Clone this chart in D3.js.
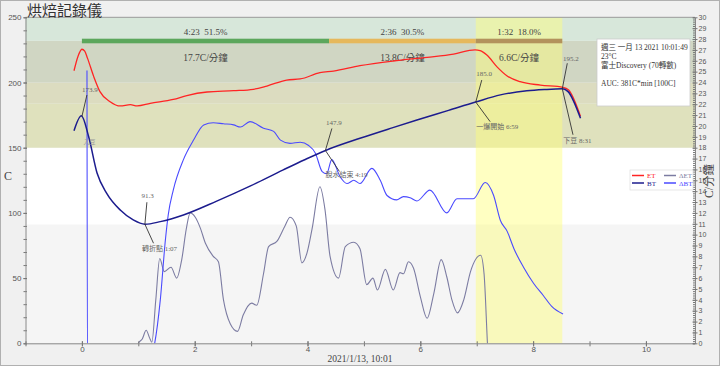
<!DOCTYPE html>
<html>
<head>
<meta charset="utf-8">
<script src="https://cdn.jsdelivr.net/npm/d3@7"></script>
<style>
  body { margin: 0; background: #f0f0f0; }
  svg { display: block; font-family: "Liberation Serif", "DejaVu Serif", "Noto Sans CJK TC", serif; }
</style>
</head>
<body>
<svg width="720" height="366"></svg>
<script>
// temperature curves [minutes, C]
const etData = [[-0.14,209],[-0.07,220],[0,225.5],[0.05,224],[0.1,218.5],[0.21,204.5],[0.32,193],[0.5,185.3],
  [0.68,182],[0.86,183],[0.98,182],[1.21,184],[1.62,187],[1.86,190],[2.22,192.7],[2.69,193.7],[3.04,194.8],
  [3.28,197.3],[3.63,201.9],[3.87,202.7],[4.22,207.5],[4.46,208.8],[4.93,212.9],[5.52,216.5],[6.12,219.3],
  [6.59,221.8],[6.97,225],[7.06,224.4],[7.18,221],[7.36,212],[7.54,205],[7.77,200.6],[8.13,198],[8.53,196.3],
  [8.63,194.2],[8.84,174]];
const btData = [[-0.14,163],[-0.01,174.5],[0.12,158.4],[0.27,130.4],[0.44,115],[0.68,102.2],[0.91,94.6],
  [1.12,91.3],[1.39,93.3],[1.8,98.4],[2.39,109],[2.98,120.5],[3.57,133],[3.95,140.8],[4.32,147.9],[4.93,157.2],
  [5.5,165.2],[5.94,171.2],[6.5,178.6],[6.98,185],[7.42,190.5],[7.89,193.6],[8.2,194.6],[8.52,195.2],
  [8.62,193],[8.84,172.5]];
// rate of rise [minutes, C/min]
const dbtData = [[0.09,25.1],[0.1,-4],[1.2,-4],[1.27,-0.5],[1.29,0],[1.39,4],[1.48,9.5],[1.53,11.8],[1.62,14.1],
  [1.8,16.9],[1.98,18.7],[2.16,20.1],[2.33,20.3],[2.51,20.2],[2.69,20.1],[2.81,19.9],[2.98,20.4],[3.22,19.8],
  [3.4,19.5],[3.52,18.7],[3.69,18.4],[3.87,18.5],[4.02,18.2],[4.14,17.5],[4.26,15.8],[4.34,15.6],[4.43,16.9],
  [4.58,15.3],[4.7,14.7],[4.82,15.0],[4.93,14.7],[5.14,16.1],[5.29,15.0],[5.41,13.6],[5.58,13.2],[5.7,13.5],
  [5.82,13.4],[5.94,13.1],[6.17,14.1],[6.47,12.0],[6.65,13.3],[6.94,13.3],[7.15,14.8],[7.3,13.6],[7.42,11.3],
  [7.54,10.3],[7.66,8.7],[7.83,7.0],[8.01,5.5],[8.18,4.4],[8.33,3.4],[8.53,2.7]];
const detData = [[0.95,-1],[1.0,0],[1.07,0.4],[1.14,1.2],[1.2,0.5],[1.24,0.1],[1.31,4],[1.38,7.8],[1.46,6.6],
  [1.58,7.0],[1.68,6.0],[1.77,7.7],[1.85,10.5],[1.92,12.0],[2.01,11.6],[2.1,10.6],[2.19,9.2],[2.33,8.0],
  [2.42,7.5],[2.51,4.0],[2.63,1.8],[2.76,1.1],[2.86,2.6],[3.01,3.7],[3.1,3.5],[3.22,6.4],[3.31,8.9],[3.46,9.4],
  [3.6,10.8],[3.69,11.6],[3.8,10.8],[3.9,7.4],[3.99,8.3],[4.08,10.5],[4.22,14.4],[4.31,12.3],[4.4,8.0],
  [4.55,6.0],[4.67,8.9],[4.82,9.3],[4.93,8.7],[5.05,5.4],[5.16,6.0],[5.24,4.9],[5.38,6.8],[5.52,4.9],
  [5.64,6.5],[5.7,6.4],[5.79,7.5],[5.88,6.9],[6.0,4.3],[6.12,2.3],[6.24,4.6],[6.37,7.7],[6.47,6.1],[6.56,4.0],
  [6.66,2.8],[6.77,4.0],[6.89,6.6],[7.07,8.1],[7.13,6.4],[7.19,0],[7.22,-3]];

// background temperature bands
const bandEdges = [0, 91, 150, 184, 200, 232, 250];
const bandColors = ["#f5f5f5", "#ffffff", "#dfe1bd", "#dcdcc0", "#d0d6c3", "#d7e7da"];

// phases
const phaseStart = [0, 4.383, 6.983];
const phaseEnd = [4.383, 6.983, 8.517];
const phaseLabels = ["4:23  51.5%", "2:36  30.5%", "1:32  18.0%"];
const phaseRates = ["17.7C/分鐘", "13.8C/分鐘", "6.6C/分鐘"];
const phaseColors = ["#5ca75c", "#e6b85c", "#b3925c"];

// events
const eventTimes = [0, 1.117, 4.317, 6.983, 8.517];
const eventTemps = [173.9, 91.3, 147.9, 185.0, 195.2];
const eventNames = ["入豆", "轉折點 1:07", "脫水結束 4:19", "一爆開始 6:59", "下豆 8:31"];

const leftTicks = [0, 50, 100, 150, 200, 250];
const bottomTicks = [0, 2, 4, 6, 8, 10];
const infoLines = ["週三 一月 13 2021 10:01:49", "23°C", "富士Discovery (70轉數)", "", "AUC: 381C*min [100C]"];

const svg = d3.select("svg");
const x = d3.scaleLinear().domain([-1, 10.87]).range([25.5, 695]);
const y = d3.scaleLinear().domain([0, 250]).range([343.3, 17.3]);
const yR = d3.scaleLinear().domain([0, 30]).range([343.3, 17.3]);
const L = 25.5, R = 695, T = 17.3, B = 343.3;

svg.append("rect").attr("x", 0.5).attr("y", 0.5).attr("width", 719).attr("height", 365)
  .attr("fill", "#f0f0f0").attr("stroke", "#b0b0b0");

svg.append("defs").append("clipPath").attr("id", "plot")
  .append("rect").attr("x", L).attr("y", T).attr("width", R - L).attr("height", B - T);

// bands
svg.append("g").selectAll("rect")
  .data(bandColors)
  .enter().append("rect")
  .attr("x", L).attr("width", R - L)
  .attr("y", (d, i) => y(bandEdges[i + 1]))
  .attr("height", (d, i) => y(bandEdges[i]) - y(bandEdges[i + 1]))
  .attr("fill", d => d);

// finishing phase highlight
svg.append("rect")
  .attr("x", x(phaseStart[2])).attr("width", x(phaseEnd[2]) - x(phaseStart[2]))
  .attr("y", T).attr("height", B - T)
  .attr("fill", "rgb(255,255,120)").attr("fill-opacity", 0.45);

// phase bar
svg.append("g").selectAll("rect")
  .data(phaseStart)
  .enter().append("rect")
  .attr("x", d => x(d))
  .attr("width", (d, i) => x(phaseEnd[i]) - x(d))
  .attr("y", 38.7).attr("height", 4.6)
  .attr("fill", (d, i) => phaseColors[i]);

const phaseText = svg.append("g").attr("fill", "#444").attr("font-size", 9).attr("text-anchor", "middle");
phaseText.selectAll(".pl")
  .data(phaseLabels)
  .enter().append("text")
  .attr("x", (d, i) => (x(phaseStart[i]) + x(phaseEnd[i])) / 2)
  .attr("y", 35)
  .style("white-space", "pre")
  .text(d => d);
phaseText.selectAll(".pr")
  .data(phaseRates)
  .enter().append("text")
  .attr("x", (d, i) => (x(phaseStart[i]) + x(phaseEnd[i])) / 2)
  .attr("y", 61)
  .attr("font-size", 9.5)
  .text(d => d);

svg.append("line").attr("x1", L).attr("x2", R).attr("y1", T).attr("y2", T).attr("stroke", "#999");

// curves
const tempLine = d3.line().x(d => x(d[0])).y(d => y(d[1])).curve(d3.curveMonotoneX);
const rorLine = d3.line().x(d => x(d[0])).y(d => yR(d[1])).curve(d3.curveMonotoneX);
const curves = svg.append("g").attr("clip-path", "url(#plot)").attr("fill", "none");
curves.append("path").attr("d", rorLine(detData)).attr("stroke", "#7c7ca2").attr("stroke-width", 1.1);
curves.append("path").attr("d", rorLine(dbtData)).attr("stroke", "#4a4aff").attr("stroke-width", 1.1);
curves.append("path").attr("d", tempLine(etData)).attr("stroke", "#ff2424").attr("stroke-width", 1.3);
curves.append("path").attr("d", tempLine(btData)).attr("stroke", "#1c1c8e").attr("stroke-width", 1.5);

// event annotations
const valueOff = [[0, -25], [-3.5, -26], [0.5, -25.5], [0.4, -25.6], [0.7, -28]];
const upEnd = [[5, -21.5], [2, -22], [6.5, -22], [6, -22], [5, -25.5]];
const lowEnd = [null, [8.6, 19], [14, 21], [14.4, 19.6], [10.7, 46]];
const nameOff = [[1.5, 27], [-3, 27], [0, 27], [0.4, 27], [1, 54]];
const ann = svg.append("g").attr("font-size", 7).attr("fill", "#666");
eventTimes.forEach(function (t, i) {
  const px = x(t), py = y(eventTemps[i]);
  ann.append("line").attr("x1", px).attr("y1", py)
    .attr("x2", px + upEnd[i][0]).attr("y2", py + upEnd[i][1])
    .attr("stroke", "#333").attr("stroke-width", 0.9);
  if (lowEnd[i]) {
    ann.append("line").attr("x1", px).attr("y1", py)
      .attr("x2", px + lowEnd[i][0]).attr("y2", py + lowEnd[i][1])
      .attr("stroke", "#333").attr("stroke-width", 0.9);
  }
  ann.append("text").attr("x", px + valueOff[i][0]).attr("y", py + valueOff[i][1])
    .text(eventTemps[i].toFixed(1));
  ann.append("text").attr("x", px + nameOff[i][0]).attr("y", py + nameOff[i][1])
    .attr("font-size", i === 0 ? 6 : 7).attr("fill", i === 0 ? "#999" : "#666")
    .text(eventNames[i]);
});

// axes
function styleAxis(g) {
  g.select(".domain").attr("stroke", "#888");
  g.selectAll(".tick line").attr("stroke", "#777");
  g.selectAll("text").attr("fill", "#555").attr("font-family", null);
}
svg.append("g").attr("transform", `translate(${L},0)`)
  .call(d3.axisLeft(y).tickValues(d3.range(0, 251, 10)).tickSize(2).tickFormat(""))
  .call(g => g.select(".domain").remove())
  .call(g => g.selectAll(".tick line").attr("x1", 1.5).attr("stroke", "#777"));
svg.append("g").attr("transform", `translate(${L},0)`)
  .call(d3.axisLeft(y).tickValues(leftTicks).tickSize(2).tickPadding(2).tickSizeOuter(0))
  .attr("font-size", 8)
  .call(styleAxis)
  .call(g => g.selectAll(".tick line").attr("x1", 1.5));

svg.append("g").attr("transform", `translate(0,${B})`)
  .call(d3.axisBottom(x).tickValues(d3.range(-1, 11, 1)).tickSize(3).tickFormat(""))
  .call(g => g.select(".domain").remove())
  .call(g => g.selectAll(".tick line").attr("y1", -2).attr("stroke", "#777"));
svg.append("g").attr("transform", `translate(0,${B})`)
  .call(d3.axisBottom(x).tickValues(bottomTicks).tickSize(3).tickPadding(0.5).tickSizeOuter(0))
  .attr("font-size", 8)
  .call(styleAxis)
  .call(g => g.selectAll(".tick line").attr("y1", -2));

svg.append("g").attr("transform", `translate(${R},0)`)
  .call(d3.axisRight(yR).tickValues(d3.range(0, 30.01, 0.2)).tickSize(-2).tickFormat(""))
  .call(g => g.select(".domain").remove())
  .call(g => g.selectAll(".tick line").attr("stroke", "#777"));
svg.append("g").attr("transform", `translate(${R},0)`)
  .call(d3.axisRight(yR).tickValues(d3.range(0, 31, 1)).tickSize(2.5).tickPadding(1).tickSizeOuter(0))
  .attr("font-size", 7)
  .call(styleAxis)
  .call(g => g.selectAll(".tick line").attr("x1", -2.5));

// axis titles
svg.append("text").attr("x", 27).attr("y", 16).attr("font-size", 15).attr("fill", "#333")
  .attr("font-family", "Noto Sans CJK TC").text("烘焙記錄儀");
svg.append("text").attr("x", 8).attr("y", 180).attr("font-size", 12).attr("fill", "#444")
  .attr("text-anchor", "middle").text("C");
svg.append("text").attr("transform", "translate(713,181) rotate(-90)").attr("font-size", 11.5)
  .attr("fill", "#444").attr("text-anchor", "middle").text("C/分鐘");
svg.append("text").attr("x", 360).attr("y", 362).attr("font-size", 9.5).attr("fill", "#444")
  .attr("text-anchor", "middle").text("2021/1/13, 10:01");

// legend
const legNames = ["ET", "BT", "ΔET", "ΔBT"];
const legColors = ["#ff2424", "#1c1c8e", "#7c7ca2", "#4a4aff"];
const leg = svg.append("g");
leg.append("rect").attr("x", 630).attr("y", 170).attr("width", 63).attr("height", 20)
  .attr("fill", "#fff").attr("stroke", "#ddd").attr("stroke-width", 0.7);
legNames.forEach(function (n, i) {
  const lx = i < 2 ? 632 : 664, ly = i % 2 === 0 ? 175.5 : 183;
  leg.append("line").attr("x1", lx).attr("x2", lx + 12).attr("y1", ly).attr("y2", ly)
    .attr("stroke", legColors[i]).attr("stroke-width", 1.5);
  leg.append("text").attr("x", lx + 15).attr("y", ly + 2.5).attr("font-size", 7)
    .attr("fill", legColors[i]).text(n);
});

// info box
const info = svg.append("g");
info.append("rect").attr("x", 597).attr("y", 39).attr("width", 93).attr("height", 67)
  .attr("fill", "#fff").attr("stroke", "#ccc").attr("stroke-width", 0.8);
info.selectAll("text")
  .data(infoLines)
  .enter().append("text")
  .attr("x", 601)
  .attr("y", (d, i) => 49.5 + i * 9.2)
  .attr("font-size", 7.5).attr("fill", "#333")
  .style("white-space", "pre")
  .text(d => d);
</script>
</body>
</html>
